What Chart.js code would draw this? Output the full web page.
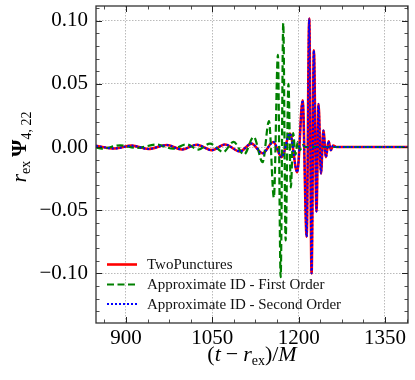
<!DOCTYPE html>
<html>
<head>
<meta charset="utf-8">
<script src="https://cdn.jsdelivr.net/npm/chart.js@4/dist/chart.umd.min.js"></script>
<style>
html,body{margin:0;padding:0;background:#fff;}
#wrap{width:415px;height:380px;}
</style>
</head>
<body>
<div id="wrap"><canvas id="c" width="415" height="380"></canvas></div>
<script>
// ---- data ----
const seriesNames = ["TwoPunctures", "Approximate ID - First Order", "Approximate ID - Second Order"];

const tpX = [848, 881, 910, 939, 971, 997, 1023, 1049, 1072, 1098, 1118, 1137.5, 1156, 1170.5, 1185, 1197.6,
             1207, 1214, 1218.4, 1222.5, 1226.5, 1231, 1234.6, 1238.8, 1243, 1247.5, 1252, 1256, 1260, 1266, 1390];
const tpY = [0.0009, -0.0012, 0.0011, -0.0016, 0.0016, -0.002, 0.0018, -0.0025, 0.002, -0.0035, 0.0027, -0.005,
             0.004, -0.008, 0.0106, -0.020, 0.037, -0.071, 0.1016, -0.100, 0.0765, -0.051, 0.034, -0.021, 0.013,
             -0.008, 0.0045, -0.0025, 0.0012, 0, 0];

const foX = [848, 858, 890, 919, 953, 982, 1005, 1026, 1046, 1069, 1087, 1105, 1122, 1137.5, 1148.5, 1157,
             1164, 1168.8, 1173.3, 1177.4, 1182.3, 1186.5, 1190.5, 1194.5, 1198.5, 1202.5, 1206.5, 1212, 1390];
const foY = [-0.0003, -0.0013, 0.0013, -0.0008, 0.0019, -0.0013, 0.0021, -0.002, 0.0027, -0.004, 0.004, -0.006,
             0.008, -0.012, 0.0205, -0.040, 0.073, -0.103, 0.098, -0.074, 0.050, -0.032, 0.011, -0.006, 0.004,
             -0.0025, 0.0015, 0, 0];

const soX = [848, 881, 910, 939, 971, 997, 1023, 1049, 1072, 1098, 1118, 1137.5, 1156, 1170.5, 1185, 1197.6,
             1207, 1214, 1218.4, 1222.5, 1226.5, 1231, 1234.6, 1238.8, 1243, 1247.5, 1252, 1256, 1260, 1266, 1390];
const soY = [0.0009, -0.0012, 0.0011, -0.0016, 0.0016, -0.002, 0.0018, -0.0025, 0.002, -0.0035, 0.0027, -0.005,
             0.004, -0.008, 0.0106, -0.020, 0.037, -0.071, 0.1016, -0.100, 0.0765, -0.051, 0.034, -0.021, 0.013,
             -0.008, 0.0045, -0.0025, 0.0012, 0, 0];

const xTicks = [900, 1050, 1200, 1350];
const yTicks = [-0.10, -0.05, 0.00, 0.05, 0.10];
const xRange = [848, 1390];
const yRange = [-0.1393, 0.1116];

// ---- chart ----
const SERIF = '"Liberation Serif", "DejaVu Serif", serif';
const toPts = (xs, ys) => xs.map((x, i) => ({x: x, y: ys[i]}));
const fmtY = v => (v < 0 ? '\u2212' : '') + Math.abs(v).toFixed(2);

function seg(ctx, x1, y1, x2, y2){ ctx.beginPath(); ctx.moveTo(x1, y1); ctx.lineTo(x2, y2); ctx.stroke(); }

// draw a sequence of text runs [text, font, dy, extraSpaceAfter]
function runs(ctx, parts, x, y, align){
  let w = 0;
  parts.forEach(p => { ctx.font = p[1]; w += ctx.measureText(p[0]).width + (p[3] || 0); });
  let cx = align === 'center' ? x - w / 2 : x;
  parts.forEach(p => {
    ctx.font = p[1];
    ctx.fillText(p[0], cx, y + (p[2] || 0));
    cx += ctx.measureText(p[0]).width + (p[3] || 0);
  });
}

const fixPad = s => { s.paddingTop = 0; s.paddingBottom = 0; s.paddingLeft = 0; s.paddingRight = 0; };

const decor = {
  id: 'decor',
  afterDatasetsDraw(chart){
    const {ctx, chartArea: a, scales: {x, y}} = chart;
    ctx.save();
    ctx.setLineDash([]);
    ctx.strokeStyle = '#222';
    ctx.lineWidth = 1;
    xTicks.forEach(v => { const p = Math.round(x.getPixelForValue(v)) + 0.5; seg(ctx, p, a.bottom, p, a.bottom - 6); seg(ctx, p, a.top, p, a.top + 6); });
    yTicks.forEach(v => { const p = Math.round(y.getPixelForValue(v)) + 0.5; seg(ctx, a.left, p, a.left + 6, p); seg(ctx, a.right, p, a.right - 6, p); });
    ctx.lineWidth = 0.8;
    for (let v = Math.ceil(xRange[0] / 37.5) * 37.5; v <= xRange[1]; v += 37.5) {
      if (v % 150 === 0) continue;
      const p = Math.round(x.getPixelForValue(v)) + 0.5;
      seg(ctx, p, a.bottom, p, a.bottom - 3.5); seg(ctx, p, a.top, p, a.top + 3.5);
    }
    for (let k = Math.ceil(yRange[0] * 100); k <= Math.floor(yRange[1] * 100); k++) {
      if (k % 5 === 0) continue;
      const p = Math.round(y.getPixelForValue(k / 100)) + 0.5;
      seg(ctx, a.left, p, a.left + 3.5, p); seg(ctx, a.right, p, a.right - 3.5, p);
    }
    ctx.strokeStyle = '#333';
    ctx.lineWidth = 1.3;
    ctx.strokeRect(a.left, a.top, a.right - a.left, a.bottom - a.top);

    // legend
    const ds = chart.data.datasets;
    const rows = [264.5, 284.5, 304];
    ds.forEach((d, i) => {
      ctx.save();
      ctx.strokeStyle = d.borderColor;
      ctx.lineWidth = d.borderWidth;
      ctx.setLineDash(d.borderDash || []);
      seg(ctx, 107, rows[i], 137, rows[i]);
      ctx.restore();
      ctx.fillStyle = '#111';
      ctx.font = '15px ' + SERIF;
      ctx.textBaseline = 'middle';
      ctx.textAlign = 'left';
      ctx.fillText(seriesNames[i], 147, rows[i] + 1);
    });

    // axis titles
    ctx.fillStyle = '#000';
    ctx.textBaseline = 'alphabetic';
    ctx.textAlign = 'left';
    const big = '22px ' + SERIF, bigI = 'italic 22px ' + SERIF, sub = '14px ' + SERIF;
    runs(ctx, [['(', big], ['t', bigI, 0, 5], ['\u2212', big, 0, 5], ['r', bigI], ['ex', sub, 4], [')/', big], ['M', bigI]],
         (a.left + a.right) / 2, 361, 'center');
    ctx.save();
    ctx.translate(26, 147);
    ctx.rotate(-Math.PI / 2);
    runs(ctx, [['r', bigI], ['ex', sub, 4, 4], ['\u03A8', 'bold 22px ' + SERIF], ['4, 22', sub, 5]], 0, 0, 'center');
    ctx.restore();
    ctx.restore();
  }
};

new Chart(document.getElementById('c'), {
  type: 'line',
  data: {
    datasets: [
      {label: seriesNames[0], data: toPts(tpX, tpY), borderColor: '#ff0000', borderWidth: 2.6, borderDash: [],
       pointRadius: 0, fill: false, cubicInterpolationMode: 'monotone', order: 3},
      {label: seriesNames[1], data: toPts(foX, foY), borderColor: '#008000', borderWidth: 2.2, borderDash: [7, 3.5],
       pointRadius: 0, fill: false, cubicInterpolationMode: 'monotone', order: 2},
      {label: seriesNames[2], data: toPts(soX, soY), borderColor: '#0000ff', borderWidth: 2, borderDash: [2, 2],
       pointRadius: 0, fill: false, cubicInterpolationMode: 'monotone', order: 1}
    ]
  },
  options: {
    responsive: false,
    devicePixelRatio: 1,
    animation: false,
    layout: {padding: {top: 6, right: 7, left: 0, bottom: 0}},
    plugins: {legend: {display: false}, tooltip: {enabled: false}},
    scales: {
      x: {
        type: 'linear', min: xRange[0], max: xRange[1],
        afterBuildTicks: s => { s.ticks = xTicks.map(v => ({value: v})); },
        afterFit: s => { s.height = 57; fixPad(s); },
        grid: {color: '#a8a8a8', lineWidth: 0.8, drawTicks: false},
        border: {display: false, dash: [1.5, 1.5]},
        ticks: {color: '#000', font: {family: SERIF, size: 21}, padding: 3, maxRotation: 0,
                callback: v => String(v)}
      },
      y: {
        type: 'linear', min: yRange[0], max: yRange[1],
        afterBuildTicks: s => { s.ticks = yTicks.map(v => ({value: v})); },
        afterFit: s => { s.width = 96; fixPad(s); },
        grid: {color: '#a8a8a8', lineWidth: 0.8, drawTicks: false},
        border: {display: false, dash: [1.5, 1.5]},
        ticks: {color: '#000', font: {family: SERIF, size: 21}, padding: 8, callback: v => fmtY(v)}
      }
    }
  },
  plugins: [decor]
});
</script>
</body>
</html>
